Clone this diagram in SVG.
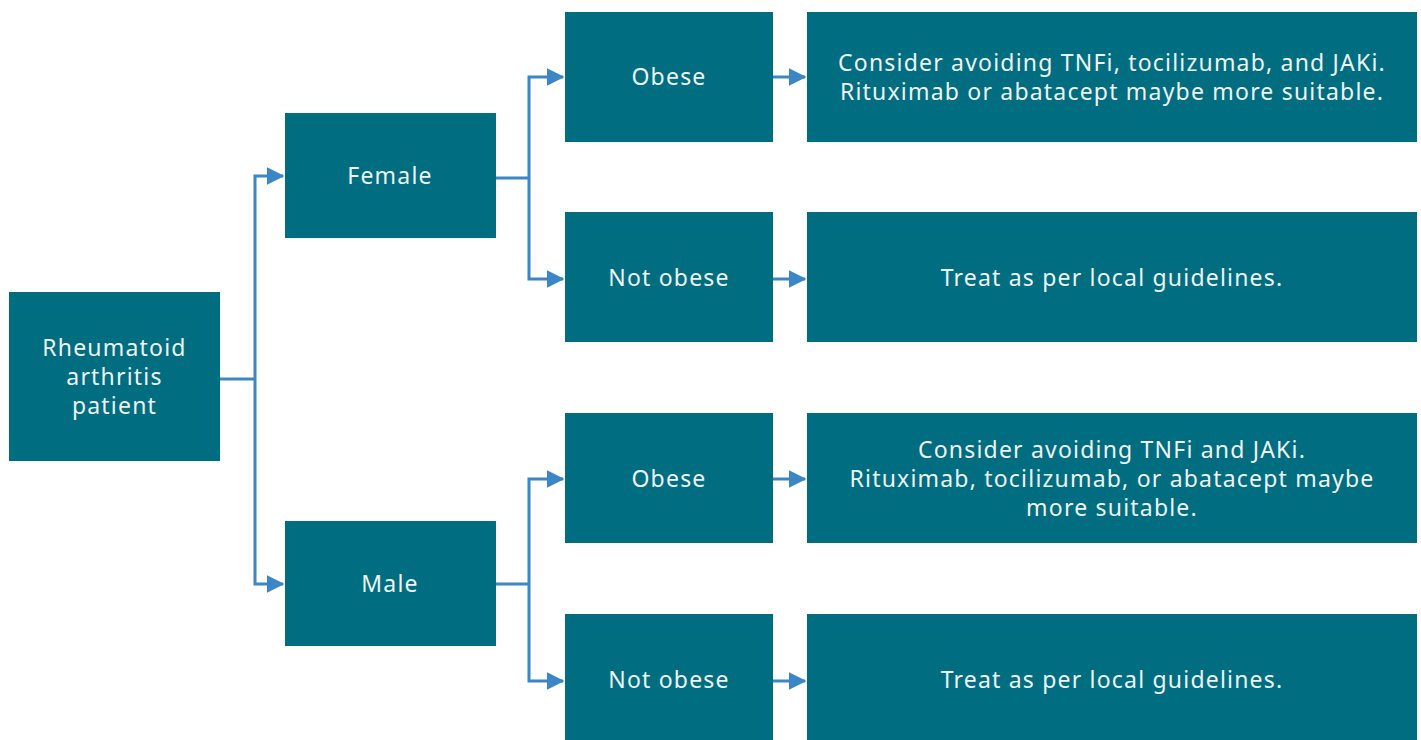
<svg xmlns="http://www.w3.org/2000/svg" width="1421" height="740" viewBox="0 0 1421 740">
<style>
.box{fill:#006d80}
.t{font-family:"Noto Sans","Liberation Sans",sans-serif;font-size:23px;letter-spacing:1.2px;fill:#eef4f6;text-anchor:middle;dominant-baseline:central}
.c{fill:none;stroke:#3b86c6;stroke-width:3}
</style>
<defs>
<marker id="ah" markerWidth="6" markerHeight="6" refX="5.5" refY="3" orient="auto" markerUnits="strokeWidth">
<path d="M0,0 L6,3 L0,6 Z" fill="#3b86c6"/>
</marker>
</defs>
<rect width="1421" height="740" fill="#ffffff"/>
<g id="connectors">
<path class="c" d="M220,379 H255"/>
<path class="c" d="M255,379 V176 H283" marker-end="url(#ah)"/>
<path class="c" d="M255,379 V584 H283" marker-end="url(#ah)"/>
<path class="c" d="M496,178 H529"/>
<path class="c" d="M529,178 V77 H563" marker-end="url(#ah)"/>
<path class="c" d="M529,178 V279 H563" marker-end="url(#ah)"/>
<path class="c" d="M496,584 H529"/>
<path class="c" d="M529,584 V479 H563" marker-end="url(#ah)"/>
<path class="c" d="M529,584 V681 H563" marker-end="url(#ah)"/>
<path class="c" d="M773,77 H805" marker-end="url(#ah)"/>
<path class="c" d="M773,279 H805" marker-end="url(#ah)"/>
<path class="c" d="M773,479 H805" marker-end="url(#ah)"/>
<path class="c" d="M773,681 H805" marker-end="url(#ah)"/>
</g>
<g id="root"><rect class="box" x="9" y="292" width="211" height="169"/>
<text class="t" x="114.5" y="347">Rheumatoid</text><text class="t" x="114.5" y="376">arthritis</text><text class="t" x="114.5" y="405">patient</text></g>
<g id="female"><rect class="box" x="285" y="113" width="211" height="125"/><text class="t" x="390" y="175">Female</text></g>
<g id="male"><rect class="box" x="285" y="521" width="211" height="125"/><text class="t" x="390" y="583">Male</text></g>
<g id="f-obese"><rect class="box" x="565" y="12" width="208" height="130"/><text class="t" x="669" y="76">Obese</text></g>
<g id="f-notobese"><rect class="box" x="565" y="212" width="208" height="130"/><text class="t" x="669" y="277">Not obese</text></g>
<g id="m-obese"><rect class="box" x="565" y="413" width="208" height="130"/><text class="t" x="669" y="478">Obese</text></g>
<g id="m-notobese"><rect class="box" x="565" y="614" width="208" height="126"/><text class="t" x="669" y="679">Not obese</text></g>
<g id="f-obese-res"><rect class="box" x="807" y="12" width="610" height="130"/>
<text class="t" x="1112" y="62">Consider avoiding TNFi, tocilizumab, and JAKi.</text>
<text class="t" x="1112" y="91">Rituximab or abatacept maybe more suitable.</text></g>
<g id="f-notobese-res"><rect class="box" x="807" y="212" width="610" height="130"/><text class="t" x="1112" y="277">Treat as per local guidelines.</text></g>
<g id="m-obese-res"><rect class="box" x="807" y="413" width="610" height="130"/>
<text class="t" x="1112" y="449">Consider avoiding TNFi and JAKi.</text>
<text class="t" x="1112" y="478">Rituximab, tocilizumab, or abatacept maybe</text>
<text class="t" x="1112" y="507">more suitable.</text></g>
<g id="m-notobese-res"><rect class="box" x="807" y="614" width="610" height="126"/><text class="t" x="1112" y="679">Treat as per local guidelines.</text></g>
</svg>
